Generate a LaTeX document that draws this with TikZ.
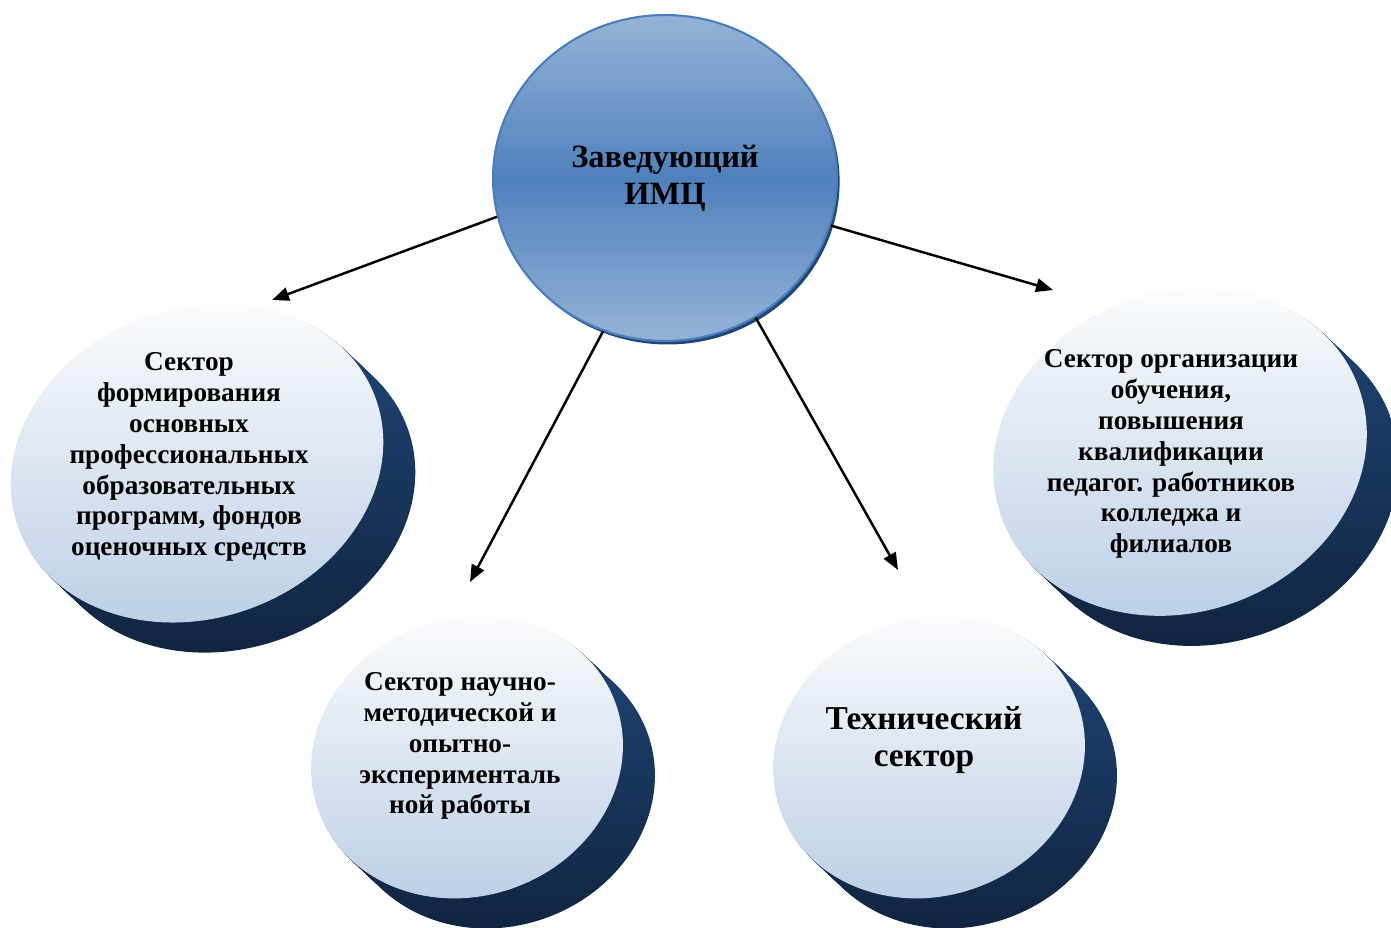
\documentclass[tikz,border=0pt]{standalone}
\usepackage{fontspec}
\setmainfont{Liberation Serif}
\usetikzlibrary{shapes.geometric,shadows,arrows.meta}
\definecolor{chiefmid}{HTML}{4F81BD}
\definecolor{chiefedge}{HTML}{95B3D7}
\definecolor{chiefline}{HTML}{4A7EBB}
\definecolor{facelow}{HTML}{B9CDE5}
\definecolor{sidetop}{HTML}{1F4677}
\definecolor{sidelow}{HTML}{0F223D}

\begin{document}
\begin{tikzpicture}[
    x=0.02cm, y=0.02cm,
    every node/.style={font=\bfseries, align=center, inner sep=0pt},
    chief/.style={ellipse, minimum width=6.88cm, minimum height=6.52cm, draw=chiefline, line width=1.2pt,
        top color=chiefedge, bottom color=chiefedge, middle color=chiefmid,
        general shadow={shadow xshift=1.5pt, shadow yshift=-2pt, fill=sidetop}},
    face/.style={top color=white, bottom color=facelow},
    side/.style={top color=sidetop, bottom color=sidelow},
    small/.style={font=\bfseries\fontsize{15.5pt}{17.6pt}\selectfont},
    big/.style={font=\bfseries\fontsize{19pt}{21.5pt}\selectfont},
    link/.style={line width=1.4pt, -{Triangle[length=0.34cm, width=0.27cm]}}
]
    \useasboundingbox (0,0) rectangle (1391,927);

    % disks: the dark body first, then the front face
    \foreach \cx/\cy/\rx/\ry in {197/464/190/155, 467/170/158/139, 929/170/158/139, 1180/475/190/160} {
        \foreach \k in {1,...,32}
            \path[side, shift={(\k,-0.94*\k)}, rotate around={20:(\cx,\cy)}] (\cx,\cy) ellipse [x radius=\rx, y radius=\ry];
        \path[face, rotate around={20:(\cx,\cy)}] (\cx,\cy) ellipse [x radius=\rx, y radius=\ry];
    }

    \node[chief, font=\bfseries\fontsize{18.5pt}{21pt}\selectfont] (head) at (665,749) {Заведующий\\ИМЦ};

    \node[small] (formsec) at (189,470) {Сектор\\формирования\\основных\\профессиональных\\образовательных\\программ, фондов\\оценочных средств};
    \node[small] (nauksec) at (460,181) {Сектор научно-\\методической и\\опытно-\\эксперименталь\\ной работы};
    \node[big] (techsec) at (924,187) {Технический\\сектор};
    \node[small] (orgsec) at (1171,473) {Сектор организации\\обучения,\\повышения\\квалификации\\педагог. работников\\колледжа и\\филиалов};

    \coordinate (formtip) at (272,627);
    \coordinate (nauktip) at (470,345);
    \coordinate (techtip) at (898,357);
    \coordinate (orgtip) at (1053,637);

    \draw[link] (head.193) -- (formtip);
    \draw[link] (head.248) -- (nauktip);
    \draw[link] (head.303) -- (techtip);
    \draw[link] (head.344) -- (orgtip);
\end{tikzpicture}
\end{document}
